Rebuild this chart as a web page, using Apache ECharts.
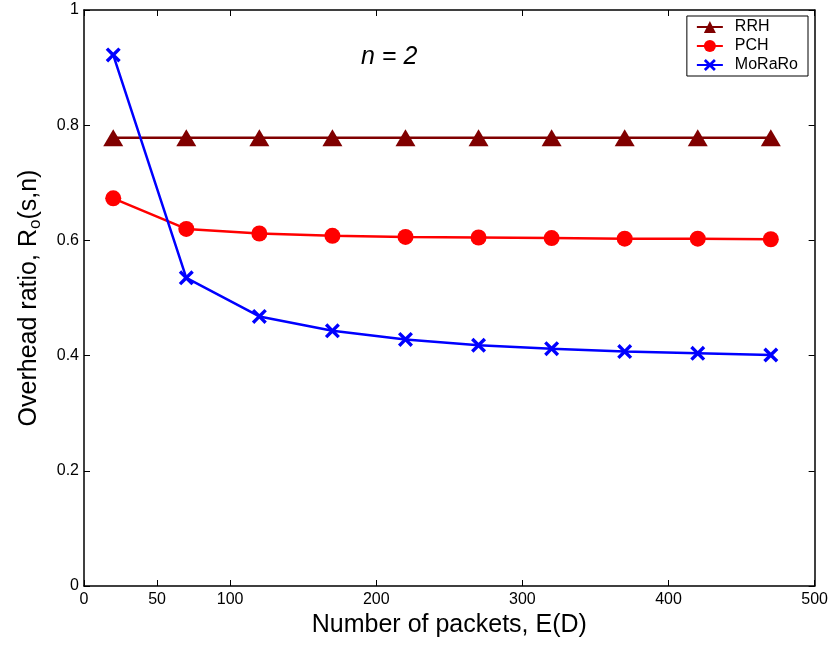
<!DOCTYPE html>
<html>
<head>
<meta charset="utf-8">
<script src="https://cdn.jsdelivr.net/npm/echarts@6/dist/echarts.min.js"></script>
<style>html,body{margin:0;padding:0;background:#fff;}#c{width:831px;height:645px;}</style>
</head>
<body>
<div id="c"></div>
<script>
const packets = [20, 70, 120, 170, 220, 270, 320, 370, 420, 470];
const rrh = [0.778, 0.778, 0.778, 0.778, 0.778, 0.778, 0.778, 0.778, 0.778, 0.778];
const pch = [0.673, 0.620, 0.612, 0.608, 0.606, 0.605, 0.604, 0.603, 0.603, 0.602];
const moraro = [0.922, 0.535, 0.468, 0.443, 0.428, 0.418, 0.412, 0.407, 0.404, 0.401];
const xTicks = [0, 50, 100, 200, 300, 400, 500];
const yTicks = [0, 0.2, 0.4, 0.6, 0.8, 1];
const seriesNames = ['RRH', 'PCH', 'MoRaRo'];

const font = '"Liberation Sans", Arial, Helvetica, sans-serif';
const crossPath = 'path://M0,1.6L1.6,0L5,3.4L8.4,0L10,1.6L6.6,5L10,8.4L8.4,10L5,6.6L1.6,10L0,8.4L3.4,5Z';

function pairs(ys) { return packets.map((x, i) => [x, ys[i]]); }

const chart = echarts.init(document.getElementById('c'), null, {renderer: 'canvas'});
function axisLine() { return {show: true, onZero: false, lineStyle: {color: '#000', width: 1.5}}; }
function tick(extra) { return Object.assign({show: true, inside: true, length: 6, lineStyle: {color: '#000', width: 1}}, extra || {}); }
chart.setOption({
  animation: false,
  backgroundColor: '#fff',
  grid: {left: 84, right: 15, top: 10, bottom: 59, containLabel: false},
  xAxis: [{
    type: 'value', min: 0, max: 500, position: 'bottom',
    axisLine: axisLine(),
    axisTick: tick({customValues: xTicks}),
    axisLabel: {customValues: xTicks, color: '#000', fontSize: 16, fontFamily: font, margin: 6},
    splitLine: {show: false},
    name: 'Number of packets, E(D)', nameLocation: 'middle', nameGap: 26,
    nameTextStyle: {fontSize: 25, color: '#000', fontFamily: font}
  }, {
    type: 'value', min: 0, max: 500, position: 'top',
    axisLine: axisLine(),
    axisTick: tick({customValues: xTicks}),
    axisLabel: {show: false}, splitLine: {show: false}
  }],
  yAxis: [{
    type: 'value', min: 0, max: 1, interval: 0.2, position: 'left',
    axisLine: axisLine(), axisTick: tick(),
    axisLabel: {color: '#000', fontSize: 16, fontFamily: font, margin: 5,
      formatter: v => (v === 0 ? '0' : v === 1 ? '1' : String(Math.round(v * 10) / 10))},
    splitLine: {show: false},
    name: '{a|Overhead ratio, R}{s|o}{a|(s,n)}', nameLocation: 'middle', nameGap: 40,
    nameTextStyle: {color: '#000', fontFamily: font,
      rich: {a: {fontSize: 25, fontFamily: font, color: '#000'},
             s: {fontSize: 17, fontFamily: font, color: '#000', padding: [13, 0, 0, 0]}}}
  }, {
    type: 'value', min: 0, max: 1, interval: 0.2, position: 'right',
    axisLine: axisLine(), axisTick: tick(),
    axisLabel: {show: false}, splitLine: {show: false}
  }],
  legend: {
    orient: 'vertical', right: 23, top: 16,
    data: seriesNames,
    borderColor: '#000', borderWidth: 1, borderRadius: 0,
    backgroundColor: '#fff',
    padding: [3, 10, 3, 9], itemGap: 3, itemWidth: 26, itemHeight: 15,
    textStyle: {fontSize: 16, fontFamily: font, color: '#000', padding: [0, 0, 0, 7]}
  },
  graphic: [{
    type: 'text', left: 361, top: 45,
    style: {text: 'n = 2', fontSize: 25, fontStyle: 'italic', fontFamily: font, fill: '#000'}
  }],
  series: [{
    name: seriesNames[0], type: 'line', data: pairs(rrh),
    symbol: 'triangle', symbolSize: [20, 17], showAllSymbol: true,
    lineStyle: {color: '#800000', width: 2.5}, itemStyle: {color: '#800000'}
  }, {
    name: seriesNames[1], type: 'line', data: pairs(pch),
    symbol: 'circle', symbolSize: 16, showAllSymbol: true,
    lineStyle: {color: '#ff0000', width: 2.5}, itemStyle: {color: '#ff0000'}
  }, {
    name: seriesNames[2], type: 'line', data: pairs(moraro),
    symbol: crossPath, symbolSize: 15, showAllSymbol: true,
    lineStyle: {color: '#0000ff', width: 2.5}, itemStyle: {color: '#0000ff'}
  }]
});
</script>
</body>
</html>
